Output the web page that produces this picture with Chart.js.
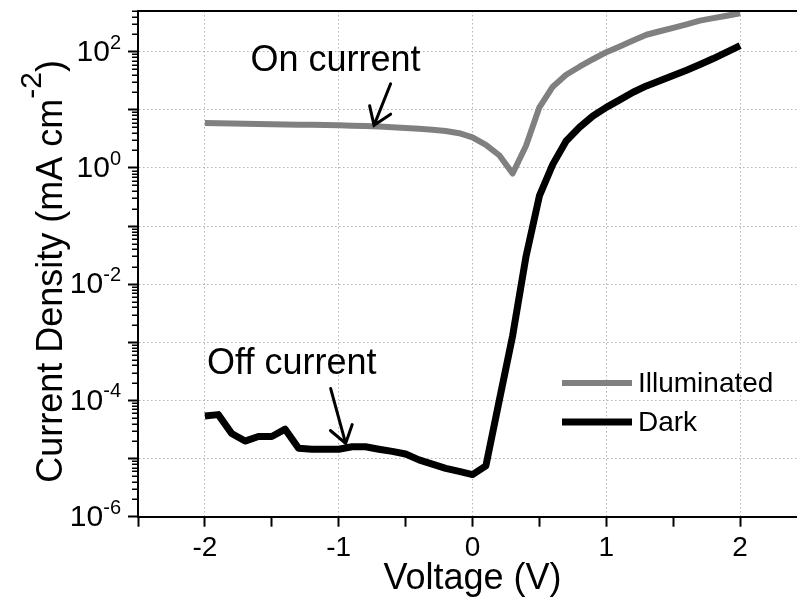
<!DOCTYPE html>
<html>
<head>
<meta charset="utf-8">
<script src="https://cdn.jsdelivr.net/npm/chart.js@4"></script>
<style>
  html, body { margin: 0; padding: 0; background: #fff; overflow: hidden; }
  #wrap { width: 797px; height: 601px; overflow: hidden; }
</style>
</head>
<body>
<div id="wrap"><canvas id="ivChart" width="820" height="601"></canvas></div>
<script>
// bias voltage (V)
const voltage = [-2.0, -1.9, -1.8, -1.7, -1.6, -1.5, -1.4, -1.3, -1.2, -1.1,
  -1.0, -0.9, -0.8, -0.7, -0.6, -0.5, -0.4, -0.3, -0.2, -0.1,
  0.0, 0.1, 0.2, 0.3, 0.4, 0.5, 0.6, 0.7, 0.8, 0.9,
  1.0, 1.1, 1.2, 1.3, 1.4, 1.5, 1.6, 1.7, 1.8, 1.9, 2.0];

// current density (mA cm-2)
const illuminated = [5.9, 5.85, 5.8, 5.75, 5.7, 5.65, 5.6, 5.55, 5.5, 5.45,
  5.4, 5.33, 5.25, 5.15, 5.0, 4.85, 4.7, 4.55, 4.3, 3.95,
  3.35, 2.5, 1.65, 0.8, 2.4, 11, 25, 40, 55, 74,
  98, 123, 155, 195, 224, 257, 295, 342, 377, 415, 457];

const dark = [5.4e-5, 5.7e-5, 2.7e-5, 2.0e-5, 2.4e-5, 2.4e-5, 3.2e-5, 1.5e-5, 1.45e-5, 1.45e-5,
  1.45e-5, 1.6e-5, 1.6e-5, 1.45e-5, 1.33e-5, 1.2e-5, 9.5e-6, 8.0e-6, 6.8e-6, 6.0e-6,
  5.3e-6, 7.5e-6, 1.0e-4, 1.3e-3, 0.03, 0.33, 1.15, 2.9, 5.0, 7.8,
  11, 14.8, 20, 25.7, 31.6, 39, 48, 60, 76, 98, 127];

// axes
const xTicks = [-2.5, -2, -1.5, -1, -0.5, 0, 0.5, 1, 1.5, 2, 2.5];
const yDecades = [1e-6, 1e-5, 1e-4, 1e-3, 1e-2, 1e-1, 1, 1e1, 1e2];
const yLabelExp = [-6, -4, -2, 0, 2];
const mantissas = [2, 3, 4, 5, 6, 7, 8, 9];
const yMin = 1e-6, yMax = 500;

// annotations (data coordinates)
const noteText = ['On current', 'Off current'];
const noteAt = [[-1.66, 47], [-1.984, 2.9e-4]];
const arrowTail = [[-0.612, 28], [-1.06, 1.6e-4]];
const arrowTip = [[-0.736, 5.4], [-0.948, 1.82e-5]];

const FONT = "'Liberation Sans', Arial, sans-serif";
const gridGray = '#b4b4b4';

const minorTicks = [];
yDecades.forEach(d => mantissas.forEach(m => {
  const v = d * m;
  if (v <= yMax) minorTicks.push(v);
}));

const pts = arr => voltage.map((v, i) => ({ x: v, y: arr[i] }));

const overlay = {
  id: 'overlay',
  afterDraw(chart) {
    const { ctx, chartArea: a, scales: { x, y } } = chart;
    ctx.save();

    // top frame
    ctx.strokeStyle = '#000';
    ctx.lineWidth = 2;
    ctx.beginPath();
    ctx.moveTo(a.left, a.top);
    ctx.lineTo(a.right, a.top);
    ctx.stroke();

    // minor log ticks on the y axis
    ctx.lineWidth = 1.5;
    ctx.beginPath();
    minorTicks.forEach(v => {
      const py = Math.round(y.getPixelForValue(v)) + 0.25;
      ctx.moveTo(a.left - 6, py);
      ctx.lineTo(a.left, py);
    });
    ctx.stroke();

    // y tick labels 10^n
    ctx.fillStyle = '#000';
    ctx.textAlign = 'left';
    yLabelExp.forEach(e => {
      const py = y.getPixelForValue(Math.pow(10, e));
      const sup = String(e);
      ctx.font = '30px ' + FONT;
      const wb = ctx.measureText('10').width;
      ctx.font = '20px ' + FONT;
      const ws = ctx.measureText(sup).width;
      const right = 121;
      ctx.font = '30px ' + FONT;
      ctx.textBaseline = 'middle';
      ctx.fillText('10', right - ws - wb, py + 1);
      ctx.font = '20px ' + FONT;
      ctx.textBaseline = 'alphabetic';
      ctx.fillText(sup, right - ws, py - 3);
    });

    // y title with superscript
    const main = 'Current Density (mA cm', sup = '-2', close = ')';
    ctx.font = '36px ' + FONT;
    const w1 = ctx.measureText(main).width;
    const w3 = ctx.measureText(close).width;
    ctx.font = '30px ' + FONT;
    const w2 = ctx.measureText(sup).width;
    const total = w1 + w2 + w3;
    ctx.save();
    ctx.translate(62, 271.5);
    ctx.rotate(-Math.PI / 2);
    ctx.textBaseline = 'alphabetic';
    let cx = -total / 2;
    ctx.font = '36px ' + FONT;
    ctx.fillText(main, cx, 0);
    cx += w1;
    ctx.font = '30px ' + FONT;
    ctx.fillText(sup, cx, -21);
    cx += w2;
    ctx.font = '36px ' + FONT;
    ctx.fillText(close, cx, 0);
    ctx.restore();

    // annotations
    ctx.font = '36px ' + FONT;
    ctx.textBaseline = 'alphabetic';
    noteText.forEach((t, i) => {
      ctx.fillText(t, x.getPixelForValue(noteAt[i][0]), y.getPixelForValue(noteAt[i][1]));
    });
    ctx.strokeStyle = '#000';
    ctx.lineWidth = 3;
    ctx.lineCap = 'round';
    arrowTail.forEach((tl, i) => {
      const x0 = x.getPixelForValue(tl[0]), y0 = y.getPixelForValue(tl[1]);
      const x1 = x.getPixelForValue(arrowTip[i][0]), y1 = y.getPixelForValue(arrowTip[i][1]);
      const ang = Math.atan2(y1 - y0, x1 - x0);
      const len = 20, spread = 0.6;
      ctx.beginPath();
      ctx.moveTo(x0, y0);
      ctx.lineTo(x1, y1);
      ctx.moveTo(x1 - len * Math.cos(ang - spread), y1 - len * Math.sin(ang - spread));
      ctx.lineTo(x1, y1);
      ctx.lineTo(x1 - len * Math.cos(ang + spread), y1 - len * Math.sin(ang + spread));
      ctx.stroke();
    });

    // legend
    ctx.lineCap = 'butt';
    ctx.font = '28px ' + FONT;
    ctx.textBaseline = 'middle';
    chart.data.datasets.forEach((ds, i) => {
      const ly = 383 + i * 39;
      ctx.strokeStyle = ds.borderColor;
      ctx.lineWidth = ds.borderWidth;
      ctx.beginPath();
      ctx.moveTo(562, ly);
      ctx.lineTo(632, ly);
      ctx.stroke();
      ctx.fillStyle = '#000';
      ctx.fillText(ds.label, 638, ly + 1);
    });

    ctx.restore();
  }
};

new Chart(document.getElementById('ivChart'), {
  type: 'line',
  data: {
    datasets: [
      {
        label: 'Illuminated',
        data: pts(illuminated),
        borderColor: '#808080',
        borderWidth: 6,
        pointRadius: 0,
        tension: 0,
        borderJoinStyle: 'round',
      },
      {
        label: 'Dark',
        data: pts(dark),
        borderColor: '#000000',
        borderWidth: 7,
        pointRadius: 0,
        tension: 0,
        borderJoinStyle: 'round',
      },
    ],
  },
  options: {
    responsive: false,
    animation: false,
    devicePixelRatio: 1,
    layout: { padding: { left: 0, top: 11, right: 13, bottom: 0 } },
    plugins: {
      legend: { display: false },
      tooltip: { enabled: false },
    },
    scales: {
      x: {
        type: 'linear',
        min: -2.5,
        max: 2.5,
        afterBuildTicks: s => { s.ticks = xTicks.map(v => ({ value: v })); },
        afterFit: s => { s.height = 84.3; },
        ticks: {
          autoSkip: false,
          maxRotation: 0,
          padding: 5,
          color: '#000',
          font: { family: FONT, size: 28 },
          callback: v => (Number.isInteger(v) ? String(v) : ''),
        },
        grid: {
          color: c => (c.tick && Number.isInteger(c.tick.value) ? gridGray : 'rgba(0,0,0,0)'),
          lineWidth: 1,
          tickLength: 10,
          tickColor: '#000',
          tickWidth: 2,
        },
        border: { color: '#000', width: 2, dash: [1.5, 2.5] },
        title: {
          display: true,
          text: 'Voltage (V)',
          color: '#000',
          font: { family: FONT, size: 36 },
          padding: { top: 0, bottom: 0 },
        },
      },
      y: {
        type: 'logarithmic',
        position: 'left',
        min: yMin,
        max: yMax,
        afterBuildTicks: s => { s.ticks = yDecades.map(v => ({ value: v })); },
        afterFit: s => { s.width = 138; },
        ticks: { display: false },
        grid: {
          color: c => (c.tick && c.tick.value > yMin ? gridGray : 'rgba(0,0,0,0)'),
          lineWidth: 1,
          tickLength: 10,
          tickColor: '#000',
          tickWidth: 2,
        },
        border: { color: '#000', width: 2, dash: [1.5, 2.5] },
      },
    },
  },
  plugins: [overlay],
});
</script>
</body>
</html>
